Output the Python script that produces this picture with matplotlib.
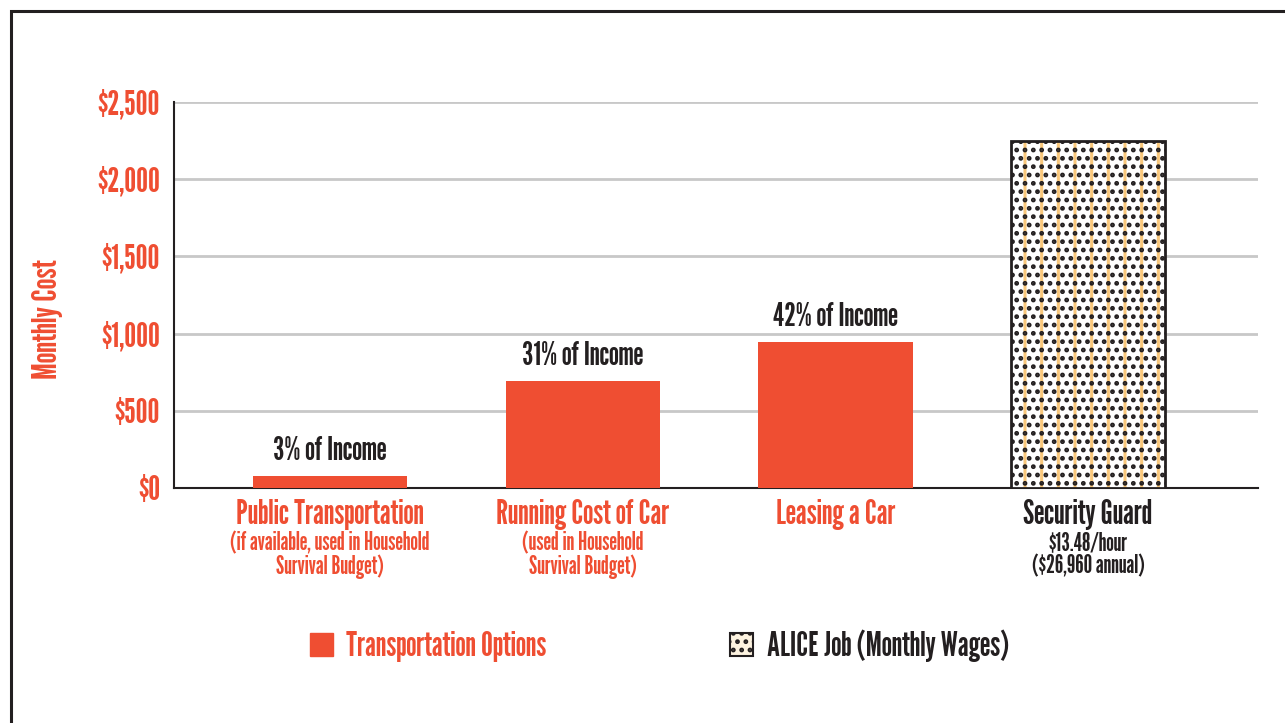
import matplotlib.pyplot as plt
from matplotlib.patches import Patch, Rectangle

# data
categories = ['Public Transportation', 'Running Cost of Car', 'Leasing a Car', 'Security Guard']
subtitles = ['(if available, used in Household\nSurvival Budget)',
             '(used in Household\nSurvival Budget)',
             '',
             '$13.48/hour\n($26,960 annual)']
monthly_cost = [78, 693, 946, 2247]
pct_labels = ['3% of Income', '31% of Income', '42% of Income', '']
yticks = [0, 500, 1000, 1500, 2000, 2500]
ytick_labels = ['$0', '$500', '$1,000', '$1,500', '$2,000', '$2,500']

ORANGE = '#ef4e32'
DARK = '#231f20'
GRID = '#c8c8c8'

plt.rcParams['font.family'] = ['League Gothic', 'Antonio', 'DejaVu Sans']
plt.rcParams['font.weight'] = 'bold'
plt.rcParams['hatch.linewidth'] = 2.2

fig = plt.figure(figsize=(12.85, 7.23), dpi=100)
ax = fig.add_axes([174 / 1285, 1 - 488 / 723, 1084 / 1285, 386 / 723])

x = list(range(len(categories)))
w = 0.61

# transportation bars
ax.bar(x[:3], monthly_cost[:3], width=w, color=ORANGE, zorder=3)
# job bar: orange stripes under black dots
ax.bar(x[3], monthly_cost[3], width=w, facecolor='white', edgecolor='#f9c77a',
       hatch='|', linewidth=0, zorder=3)
ax.bar(x[3], monthly_cost[3], width=w, facecolor='none', edgecolor=DARK,
       hatch='..', linewidth=2, zorder=4)

for i in range(3):
    ax.annotate(pct_labels[i], (x[i], monthly_cost[i]), xytext=(0, 7),
                textcoords='offset points', ha='center', va='bottom',
                fontsize=23, color=DARK)

ax.set_xlim(-0.617, 3.672)
ax.set_ylim(0, 2500)
ax.set_yticks(yticks)
ax.set_yticklabels(ytick_labels)
ax.tick_params(axis='y', length=0, pad=10, labelsize=24, labelcolor=ORANGE)
ax.set_xticks([])
ax.yaxis.grid(True, color=GRID, linewidth=2)
ax.set_axisbelow(True)
for s in ['top', 'right']:
    ax.spines[s].set_visible(False)
for s in ['left', 'bottom']:
    ax.spines[s].set_color(DARK)
    ax.spines[s].set_linewidth(1.5)

ax.set_ylabel('Monthly Cost', fontsize=25, color=ORANGE)
ax.yaxis.set_label_coords(-0.1024, 0.438)

for i, cat in enumerate(categories):
    col = DARK if i == 3 else ORANGE
    ax.annotate(cat, (x[i], 0), xytext=(0, -8), textcoords='offset points',
                ha='center', va='top', fontsize=24, color=col,
                annotation_clip=False)
    if subtitles[i]:
        ax.annotate(subtitles[i], (x[i], 0), xytext=(0, -31), textcoords='offset points',
                    ha='center', va='top', fontsize=17.5, color=col,
                    linespacing=0.95, annotation_clip=False)

handles = [Patch(facecolor=ORANGE, edgecolor=ORANGE),
           Patch(facecolor='#fdf3e0', edgecolor=DARK, hatch='..', linewidth=1.5)]
leg = fig.legend(handles, ['Transportation Options', 'ALICE Job (Monthly Wages)'],
                 loc='center', bbox_to_anchor=(0.513, 1 - 646 / 723), ncol=2,
                 frameon=False, fontsize=24, handlelength=0.7, handleheight=0.7,
                 handletextpad=0.4, columnspacing=5.5)
leg.get_texts()[0].set_color(ORANGE)
leg.get_texts()[1].set_color(DARK)

# outer frame (runs off the right and bottom edges)
fig.add_artist(Rectangle((11 / 1285, -0.1), 1.2, 1 - 11 / 723 + 0.1,
                         transform=fig.transFigure, fill=False,
                         edgecolor=DARK, linewidth=2.2))

fig.savefig('out.png', dpi=100)
